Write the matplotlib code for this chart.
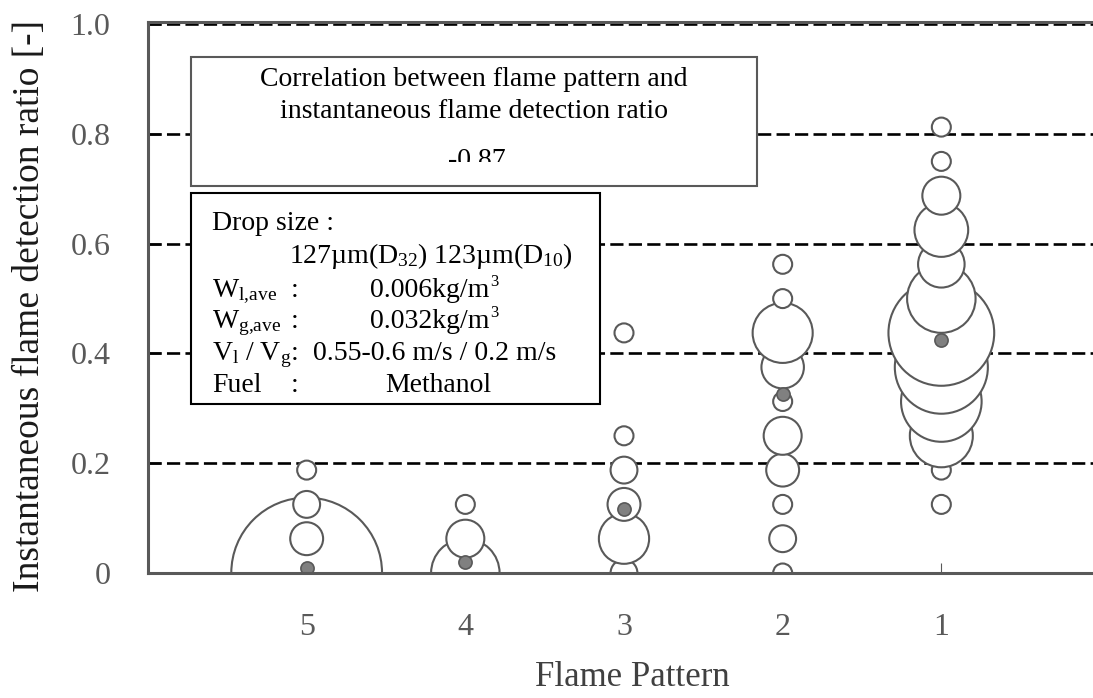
import numpy as np
import matplotlib.pyplot as plt
from matplotlib.patches import Rectangle
from matplotlib.transforms import Bbox, TransformedBbox

plt.rcParams['font.family'] = ['Liberation Serif', 'DejaVu Serif']
plt.rcParams['mathtext.fontset'] = 'custom'
plt.rcParams['mathtext.rm'] = 'Liberation Serif'
plt.rcParams['mathtext.it'] = 'Liberation Serif:italic'

W, H = 1093, 698

patterns = ['5', '4', '3', '2', '1']

# detection ratio classes and number of samples in each class, per flame pattern
ratio_p5 = [0.0, 0.0625, 0.125, 0.1875]
count_p5 = [63, 3, 2, 1]

ratio_p4 = [0.0, 0.0625, 0.125]
count_p4 = [13, 4, 1]

ratio_p3 = [0.0, 0.0625, 0.125, 0.1875, 0.25, 0.4375]
count_p3 = [2, 7, 3, 2, 1, 1]

ratio_p2 = [0.0, 0.0625, 0.125, 0.1875, 0.25, 0.3125, 0.375, 0.4375, 0.5, 0.5625]
count_p2 = [1, 2, 1, 3, 4, 1, 5, 10, 1, 1]

ratio_p1 = [0.125, 0.1875, 0.25, 0.3125, 0.375, 0.4375, 0.5, 0.5625, 0.625, 0.6875, 0.75, 0.8125]
count_p1 = [1, 1, 11, 18, 24, 31, 13, 6, 8, 4, 1, 1]

yticks = [0, 0.2, 0.4, 0.6, 0.8, 1.0]
ytick_labels = ['0', '0.2', '0.4', '0.6', '0.8', '1.0']
grid_levels = [0.2, 0.4, 0.6, 0.8, 1.0]
correlation = -0.87

all_ratios = [ratio_p5, ratio_p4, ratio_p3, ratio_p2, ratio_p1]
all_counts = [count_p5, count_p4, count_p3, count_p2, count_p1]


def fx(x):
    return x / W


def fy(y):
    return 1 - y / H


EDGE = '#595959'
UNIT = 187  # marker area (pt^2) for one sample
FS = 20

fig = plt.figure(figsize=(W / 100, H / 100), dpi=100)
ax = fig.add_axes([fx(148), fy(573), 952 / W, 551 / H])
ax.set_xlim(0, 6)
ax.set_ylim(0, 1.004)

for v in grid_levels:
    ax.axhline(v, color='black', lw=1.9, ls=(0, (5, 2)), zorder=0.8)

pos = np.arange(1, len(patterns) + 1)
for x, r, c in zip(pos, all_ratios, all_counts):
    ax.scatter([x] * len(r), r, s=np.array(c) * UNIT, facecolor='white',
               edgecolor=EDGE, linewidth=1.5, zorder=1)

# weighted mean detection ratio for each pattern
mean_ratio = [np.average(r, weights=c) for r, c in zip(all_ratios, all_counts)]
ax.scatter(pos, mean_ratio, s=90, facecolor='#808080', edgecolor=EDGE,
           linewidth=1.2, zorder=1.5)

for side in ['left', 'bottom', 'top']:
    ax.spines[side].set_color(EDGE)
    ax.spines[side].set_linewidth(2.2)
ax.spines['right'].set_visible(False)

ax.set_xticks(pos)
ax.set_xticklabels(patterns)
ax.set_yticks(yticks)
ax.set_yticklabels(ytick_labels)
ax.tick_params(axis='x', direction='in', length=7, width=0.8, color=EDGE,
               pad=29, labelsize=23, labelcolor=EDGE)
ax.tick_params(axis='y', direction='in', length=9, width=2, color=EDGE,
               pad=27, labelsize=23, labelcolor=EDGE)
ax.set_axisbelow(True)

fig.text(fx(30), fy(306), 'Instantaneous flame detection ratio [-]', rotation=90,
         ha='center', va='center', fontsize=27, color='#1a1a1a')
fig.text(fx(632), fy(686), 'Flame Pattern', ha='center', va='baseline',
         fontsize=25, color='#404040')

# correlation box
fig.add_artist(Rectangle((fx(191), fy(186)), (757 - 191) / W, (186 - 57) / H,
                         transform=fig.transFigure, facecolor='white',
                         edgecolor=EDGE, lw=1.5, zorder=5))
fig.text(fx(474), fy(86), 'Correlation between flame pattern and', ha='center',
         va='baseline', fontsize=FS, zorder=6)
fig.text(fx(474), fy(118), 'instantaneous flame detection ratio', ha='center',
         va='baseline', fontsize=FS, zorder=6)
t = fig.text(fx(477), fy(167), f'{correlation:.2f}', ha='center', va='baseline',
             fontsize=FS, zorder=6)
t.set_clip_box(TransformedBbox(Bbox([[fx(191), fy(162)], [fx(757), fy(57)]]),
                               fig.transFigure))
t.set_clip_on(True)

# experimental conditions box
fig.add_artist(Rectangle((fx(191), fy(404)), (600 - 191) / W, (404 - 193) / H,
                         transform=fig.transFigure, facecolor='white',
                         edgecolor='black', lw=1.5, zorder=5))
cond_rows = [
    (230, 'Drop size :', None, None, None),
    (263, None, None, (289, r'127µm(D$_{\mathrm{32}}$) 123µm(D$_{\mathrm{10}}$)'), None),
    (297, r'W$_{\mathrm{l{,}ave}}$', ':', (370, '0.006kg/m'), '3'),
    (328, r'W$_{\mathrm{g{,}ave}}$', ':', (370, '0.032kg/m'), '3'),
    (360, r'V$_{\mathrm{l}}$ / V$_{\mathrm{g}}$', ':', (313, '0.55-0.6 m/s / 0.2 m/s'), None),
    (392, 'Fuel', ':', (385, 'Methanol'), None),
]
renderer = fig.canvas.get_renderer()
for y, label, colon, value, sup in cond_rows:
    if label:
        fig.text(fx(212), fy(y), label, va='baseline', fontsize=FS, zorder=6)
    if colon:
        fig.text(fx(291), fy(y), colon, va='baseline', fontsize=FS, zorder=6)
    if value:
        vt = fig.text(fx(value[0]), fy(y), value[1], va='baseline', fontsize=FS,
                      zorder=6)
        if sup:
            x_end = vt.get_window_extent(renderer).x1
            fig.text((x_end + 0.5) / W, fy(y - 11), sup, va='baseline',
                     fontsize=12, zorder=6)

fig.savefig('out.png', dpi=100)
